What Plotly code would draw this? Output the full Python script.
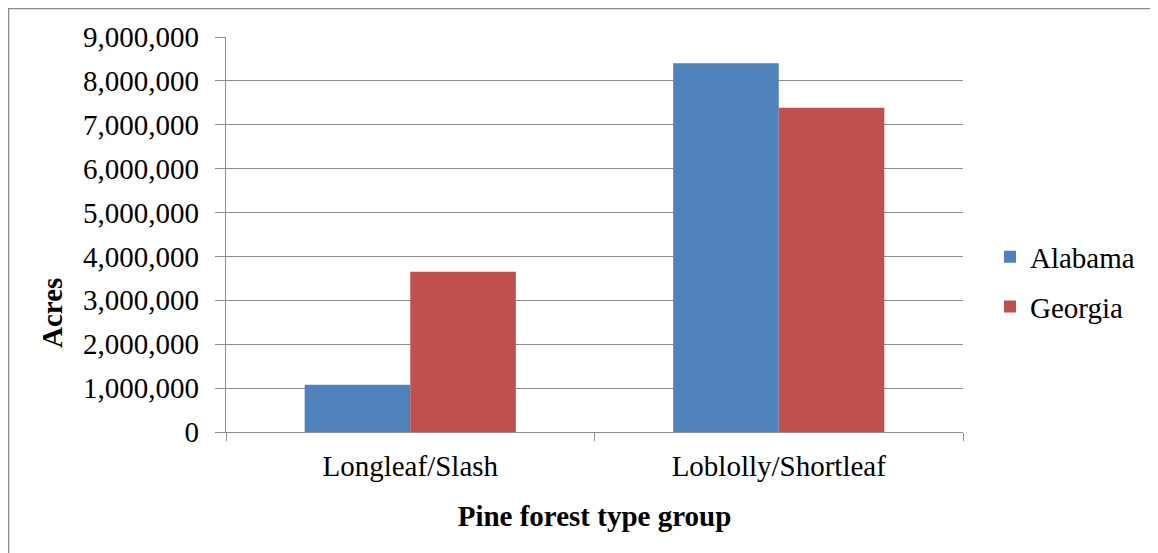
import plotly.graph_objects as go

categories = ["Longleaf/Slash", "Loblolly/Shortleaf"]
alabama = [1075000, 8400000]
georgia = [3650000, 7390000]
series_names = ["Alabama", "Georgia"]
colors = ["#4F81BD", "#C0504D"]
y_ticks = [0, 1000000, 2000000, 3000000, 4000000, 5000000, 6000000, 7000000, 8000000, 9000000]

FONT = "Liberation Serif"
FS = 29
OFF = 8  # page body margin
W, H = 1158 - OFF, 553 - OFF
L, R, T, B = 226 - OFF, 963 - OFF, 37 - OFF, 432 - OFF

fig = go.Figure()
for name, vals, col in zip(series_names, [alabama, georgia], colors):
    fig.add_trace(go.Bar(x=categories, y=vals, name=name, marker_color=col,
                         marker_line_width=0, legendgroup=name))

def px2paper_x(px):
    return (px - OFF - L) / (R - L)

def px2paper_y(py):
    return (B - (py - OFF)) / (B - T)

fig.update_layout(
    width=W, height=H,
    margin=dict(l=L, r=W - R, t=T, b=H - B, pad=0),
    paper_bgcolor="white", plot_bgcolor="white",
    font=dict(family=FONT, size=FS, color="black"),
    bargap=0.427, bargroupgap=0,
    showlegend=True,
    legend=dict(x=px2paper_x(990), xanchor="left", y=px2paper_y(282), yanchor="middle",
                traceorder="grouped", tracegroupgap=9,
                font=dict(family=FONT, size=FS, color="black"),
                bgcolor="rgba(0,0,0,0)"),
    xaxis=dict(type="category", showgrid=False, showline=True, linecolor="#8e8e8e", linewidth=1.3,
               ticks="outside", tickson="boundaries", ticklen=8, tickcolor="#8e8e8e", tickwidth=1.3,
               tickfont=dict(family=FONT, size=FS, color="black"), ticklabelstandoff=8,
               title=dict(text="<b>Pine forest type group</b>", standoff=24,
                          font=dict(family=FONT, size=FS, color="black"))),
    yaxis=dict(range=[0, 9000000], tickvals=y_ticks, tickformat=",d",
               showgrid=True, gridcolor="#8e8e8e", gridwidth=1.3,
               showline=True, linecolor="#8e8e8e", linewidth=1.3,
               ticks="outside", ticklen=10, tickcolor="#8e8e8e", tickwidth=1.3,
               tickfont=dict(family=FONT, size=FS, color="black"), ticklabelstandoff=10,
               zeroline=False),
)

fig.add_annotation(text="<b>Acres</b>", textangle=-90, xref="paper", yref="paper",
                   x=px2paper_x(52), y=px2paper_y(313), xanchor="center", yanchor="middle",
                   showarrow=False, font=dict(family=FONT, size=FS, color="black"))

# outer chart border (top and left visible)
fig.add_shape(type="rect", xref="paper", yref="paper",
              x0=px2paper_x(8.5), y0=px2paper_y(H + 40), x1=px2paper_x(W + 40), y1=px2paper_y(8.5),
              line=dict(color="#8a8a8a", width=1.5), fillcolor="rgba(0,0,0,0)", layer="below")

fig.write_html("out.html")
